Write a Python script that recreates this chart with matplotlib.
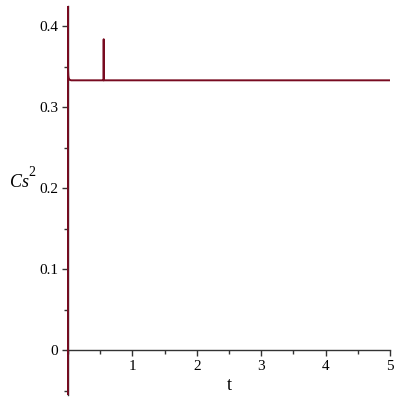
import matplotlib
matplotlib.use("Agg")
import matplotlib.pyplot as plt
from matplotlib.ticker import MultipleLocator

# Cs^2 vs t
t = [0.0, 0.0, 0.002, 0.006, 0.012, 0.025, 0.05, 0.555, 0.556, 0.557, 5.0]
cs2 = [-0.06, 0.43, 0.346, 0.339, 0.336, 0.334, 0.3333, 0.3333, 0.384, 0.3333, 0.3333]
x_ticks = [1, 2, 3, 4, 5]
y_ticks = [0, 0.1, 0.2, 0.3, 0.4]
y_labels = ["0", "0.1", "0.2", "0.3", "0.4"]

plt.rcParams['font.family'] = ['Liberation Serif', 'DejaVu Serif']

fig = plt.figure(figsize=(4, 4), dpi=100)
ax = fig.add_axes([0.1665, 0.0125, 0.8085, 0.9725])

ax.spines['top'].set_visible(False)
ax.spines['right'].set_visible(False)
ax.spines['bottom'].set_position(('data', 0))
ax.spines['left'].set_position(('data', 0))
for s in ('bottom', 'left'):
    ax.spines[s].set_linewidth(1.0)
    ax.spines[s].set_color('#333333')

ax.plot(t, cs2, color='#780a20', lw=1.4, zorder=5)

ax.set_xlim(-0.02, 5)
ax.set_ylim(-0.055, 0.425)

ax.set_xticks(x_ticks)
ax.set_yticks(y_ticks)
ax.set_yticklabels(y_labels)
ax.xaxis.set_minor_locator(MultipleLocator(0.5))
ax.yaxis.set_minor_locator(MultipleLocator(0.05))
ax.tick_params(axis='both', which='major', direction='out', length=4, width=1,
               labelsize=11, color='#333333', pad=3)
ax.tick_params(axis='both', which='minor', direction='out', length=3, width=1,
               color='#333333')

ax.text(2.5, -0.043, 't', ha='center', va='center', fontsize=13)
# y label: italic "Cs" with a raised "2"
fig.text(0.025, 0.543, 'Cs', ha='left', va='center', fontsize=13, style='italic')
fig.text(0.071, 0.568, '2', ha='left', va='center', fontsize=10)

fig.savefig('out.png', dpi=100)
